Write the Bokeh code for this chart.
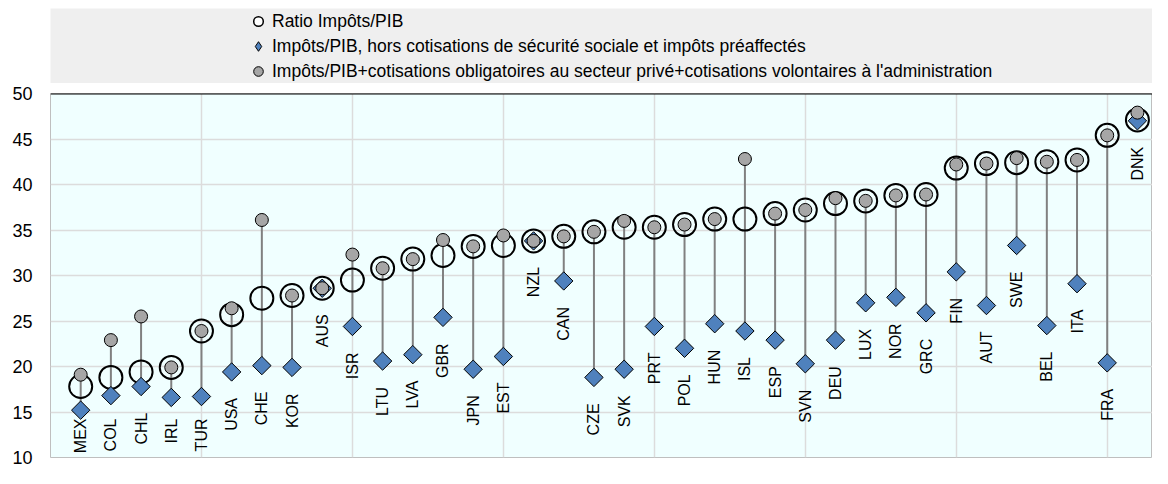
import numpy as np
from bokeh.plotting import figure
from bokeh.layouts import column
from bokeh.models import (ColumnDataSource, Range1d, FixedTicker, Grid, Span, Legend,
                          LegendItem)
from bokeh.core.properties import value
from bokeh.embed import file_html
from bokeh.resources import INLINE

# ---------------- data ----------------
countries = ["MEX", "COL", "CHL", "IRL", "TUR", "USA", "CHE", "KOR", "AUS", "ISR",
             "LTU", "LVA", "GBR", "JPN", "EST", "NZL", "CAN", "CZE", "SVK", "PRT",
             "POL", "HUN", "ISL", "ESP", "SVN", "DEU", "LUX", "NOR", "GRC", "FIN",
             "AUT", "SWE", "BEL", "ITA", "FRA", "DNK"]

ratio = [17.8, 18.8, 19.4, 19.9, 23.9, 25.7, 27.5, 27.8, 28.6, 29.5,
         30.8, 31.8, 32.2, 33.2, 33.3, 33.8, 34.3, 34.8, 35.3, 35.3,
         35.6, 36.2, 36.2, 36.8, 37.2, 37.9, 38.2, 38.8, 38.9, 41.8,
         42.3, 42.4, 42.5, 42.7, 45.4, 47.1]

excl = [15.2, 16.8, 17.8, 16.6, 16.7, 19.4, 20.1, 19.9, 28.6, 24.4,
        20.6, 21.3, 25.4, 19.7, 21.1, 33.8, 29.4, 18.8, 19.7, 24.4,
        22.0, 24.7, 23.9, 22.9, 20.3, 22.9, 27.0, 27.6, 25.9, 30.4,
        26.7, 33.3, 24.5, 29.1, 20.4, 47.0]

incl = [19.1, 22.9, 25.5, 19.9, 23.9, 26.4, 36.1, 27.8, 28.6, 32.3,
        30.8, 31.8, 33.9, 33.2, 34.4, 33.8, 34.3, 34.8, 36.0, 35.3,
        35.6, 36.2, 42.8, 36.8, 37.2, 38.5, 38.2, 38.8, 38.9, 42.2,
        42.3, 42.9, 42.5, 42.7, 45.4, 47.9]

y_ticks = [10, 15, 20, 25, 30, 35, 40, 45, 50]

legend_labels = [
    "Ratio Impôts/PIB",
    "Impôts/PIB, hors cotisations de sécurité sociale et impôts préaffectés",
    "Impôts/PIB+cotisations obligatoires au secteur privé+cotisations volontaires à l'administration",
]

# ---------------- styling / layout ----------------
FONT = "Liberation Sans"
BLUE = "#4F81BD"
GREY_DOT = "#A6A6A6"
STEM = "#808080"
GRID = "#DCDCDC"
W = 1152
LEG_H = 83
MAIN_H = 468 - LEG_H
MAIN_TOP, MAIN_BOTTOM = 10, 11
Y0, Y1 = 10, 50

frame_h = MAIN_H - MAIN_TOP - MAIN_BOTTOM
ppu = frame_h / (Y1 - Y0)          # screen pixels per y unit

n = len(countries)
xs = list(range(n))
lo = [min(a, b, c) for a, b, c in zip(ratio, excl, incl)]
label_gap = 26 / ppu                # label starts 26 px below the lowest marker
label_floor = Y0 + 39 / ppu         # keep long labels inside the plot
label_y = [max(v - label_gap, label_floor) for v in lo]
grid_ticks = [i for i in xs if i % 5 == 4]

src = ColumnDataSource(dict(x=xs, country=countries, ratio=ratio, excl=excl,
                            incl=incl, label_y=label_y))

# ---------------- main plot ----------------
p = figure(width=W, height=MAIN_H, x_range=Range1d(-1, 35.5), y_range=Range1d(Y0, Y1),
           x_axis_type=None, output_backend="svg", toolbar_location=None, title=None,
           min_border_left=50, min_border_right=0, min_border_top=MAIN_TOP,
           min_border_bottom=MAIN_BOTTOM,
           background_fill_color="#F0FFFF", border_fill_color="white",
           outline_line_color="#BFBFBF", outline_line_width=1)

p.yaxis.ticker = FixedTicker(ticks=y_ticks)
p.yaxis.axis_line_color = None
p.yaxis.major_tick_line_color = None
p.yaxis.minor_tick_line_color = None
p.yaxis.major_tick_out = 0
p.yaxis.major_tick_in = 0
p.yaxis.major_label_standoff = 18
p.yaxis.major_label_text_font = FONT
p.yaxis.major_label_text_font_size = "18px"
p.yaxis.major_label_text_color = "black"
p.ygrid.grid_line_color = GRID
p.ygrid.grid_line_width = 1.5

xgrid = Grid(dimension=0, ticker=FixedTicker(ticks=grid_ticks),
             grid_line_color=GRID, grid_line_width=1.5)
p.add_layout(xgrid)

p.segment(x0="x", y0="excl", x1="x", y1="incl", source=src,
          line_color=STEM, line_width=2)
p.scatter("x", "ratio", source=src, marker="circle", size=23,
          fill_color=None, line_color="black", line_width=2)
p.scatter("x", "excl", source=src, marker="square", angle=np.pi / 4, size=13,
          fill_color=BLUE, line_color="black", line_width=1)
p.scatter("x", "incl", source=src, marker="circle", size=13,
          fill_color=GREY_DOT, line_color="black", line_width=1)
p.text(x="x", y="label_y", text="country", source=src, angle=np.pi / 2,
       text_align="right", text_baseline="middle", text_font=value(FONT),
       text_font_size="16px", text_color="black")

p.add_layout(Span(location=Y1, dimension="width", line_color="black", line_width=2))

# ---------------- legend band (separate strip above the plot) ----------------
lf = figure(width=W, height=LEG_H, x_range=Range1d(0, 1), y_range=Range1d(0, 1),
            x_axis_type=None, y_axis_type=None, output_backend="svg",
            toolbar_location=None, title=None,
            min_border_left=47, min_border_right=0, min_border_top=8, min_border_bottom=0,
            background_fill_color="#EFEFEF", border_fill_color="white",
            outline_line_color=None)

nan = [float("nan")]
d0 = lf.scatter(x=nan, y=nan, marker="circle", fill_color="white",
                line_color="black", line_width=1.5)
d1 = lf.scatter(x=nan, y=nan, marker="diamond", fill_color=BLUE,
                line_color="black", line_width=1)
d2 = lf.scatter(x=nan, y=nan, marker="circle", fill_color=GREY_DOT,
                line_color="black", line_width=1)

legend = Legend(items=[LegendItem(label=legend_labels[0], renderers=[d0], index=0),
                       LegendItem(label=legend_labels[1], renderers=[d1], index=0),
                       LegendItem(label=legend_labels[2], renderers=[d2], index=0)],
                location=(196, 0), orientation="vertical",
                glyph_width=24, glyph_height=24, label_height=24,
                spacing=1, padding=0, margin=0, label_standoff=2,
                label_text_font=FONT, label_text_font_size="17.5px",
                label_text_color="black",
                background_fill_alpha=0, border_line_color=None)
lf.add_layout(legend, "center")

layout = column(lf, p, spacing=0)

open("out.html", "w").write(file_html(layout, INLINE))
